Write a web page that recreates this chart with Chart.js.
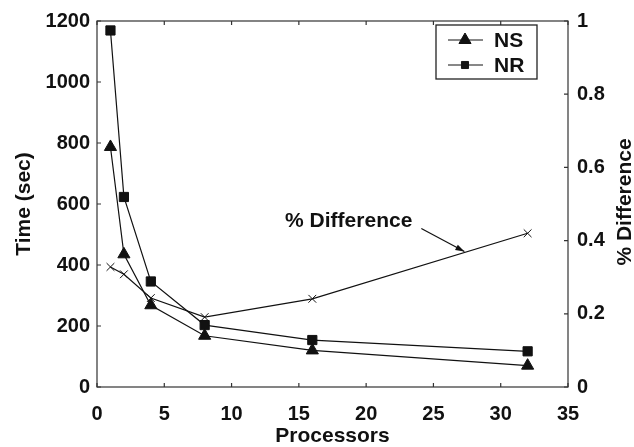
<!DOCTYPE html>
<html>
<head>
<meta charset="utf-8">
<script src="https://cdn.jsdelivr.net/npm/chart.js@4.4.0/dist/chart.umd.min.js"></script>
<style>
html,body{margin:0;padding:0;background:#fff;}
#wrap{width:634px;height:447px;position:relative;}
</style>
</head>
<body>
<div id="wrap"><canvas id="c" width="634" height="447"></canvas></div>
<script>
const processors = [1, 2, 4, 8, 16, 32];
const nsTime = [787, 435, 268, 168, 120, 70];
const nrTime = [1169, 623, 346, 203, 154, 117];
const pctDiff = [0.328, 0.308, 0.243, 0.191, 0.241, 0.42];
const xTicks = [0, 5, 10, 15, 20, 25, 30, 35];
const yTicks = [0, 200, 400, 600, 800, 1000, 1200];
const y1Ticks = [0, 0.2, 0.4, 0.6, 0.8, 1];
const annotationText = '% Difference';

const FONT = 'Liberation Sans, Arial, Helvetica, sans-serif';
const INK = '#111';
const TICK_FONT = { family: FONT, size: 20, weight: 'bold' };
const TITLE_FONT = { family: FONT, size: 21, weight: 'bold', lineHeight: 1.0 };

function pts(ys){ return processors.map((x,i)=>({x:x,y:ys[i]})); }

const framePlugin = {
  id: 'frame',
  afterDatasetsDraw(chart){
    const {ctx, chartArea:a, scales} = chart;
    ctx.save();
    ctx.strokeStyle = '#333';
    ctx.lineWidth = 1.2;
    ctx.strokeRect(a.left, a.top, a.right - a.left, a.bottom - a.top);
    const tl = 4;
    ctx.beginPath();
    xTicks.forEach(v=>{
      const px = scales.x.getPixelForValue(v);
      ctx.moveTo(px, a.bottom); ctx.lineTo(px, a.bottom - tl);
      ctx.moveTo(px, a.top); ctx.lineTo(px, a.top + tl);
    });
    yTicks.forEach(v=>{
      const py = scales.y.getPixelForValue(v);
      ctx.moveTo(a.left, py); ctx.lineTo(a.left + tl, py);
    });
    y1Ticks.forEach(v=>{
      const py = scales.y1.getPixelForValue(v);
      ctx.moveTo(a.right, py); ctx.lineTo(a.right - tl, py);
    });
    ctx.stroke();

    // annotation arrow
    const xs = scales.x, y1 = scales.y1;
    const tipX = xs.getPixelForValue(27.3);
    const tipY = y1.getPixelForValue(0.241 + (27.3-16)/16*(0.42-0.241)) - 1;
    const tailX = xs.getPixelForValue(24.1);
    const tailY = y1.getPixelForValue(0.433);
    ctx.strokeStyle = INK; ctx.fillStyle = INK; ctx.lineWidth = 1.2;
    ctx.beginPath(); ctx.moveTo(tailX, tailY); ctx.lineTo(tipX, tipY); ctx.stroke();
    const ang = Math.atan2(tipY - tailY, tipX - tailX);
    const hl = 9, hw = 3;
    ctx.beginPath();
    ctx.moveTo(tipX, tipY);
    ctx.lineTo(tipX - hl*Math.cos(ang) + hw*Math.sin(ang), tipY - hl*Math.sin(ang) - hw*Math.cos(ang));
    ctx.lineTo(tipX - hl*Math.cos(ang) - hw*Math.sin(ang), tipY - hl*Math.sin(ang) + hw*Math.cos(ang));
    ctx.closePath(); ctx.fill();
    ctx.font = 'bold 21px ' + FONT;
    ctx.textAlign = 'right'; ctx.textBaseline = 'middle';
    ctx.fillText(annotationText, tailX - 9, tailY - 7);

    // right axis title (reads bottom to top)
    ctx.save();
    ctx.translate(625, (a.top + a.bottom)/2 - 2);
    ctx.rotate(-Math.PI/2);
    ctx.textAlign = 'center'; ctx.textBaseline = 'middle';
    ctx.fillText(annotationText, 0, 0);
    ctx.restore();

    // legend
    const lx = 436, ly = 25, lw = 101, lh = 54;
    ctx.fillStyle = '#fff';
    ctx.fillRect(lx, ly, lw, lh);
    ctx.strokeStyle = '#222'; ctx.lineWidth = 1.3;
    ctx.strokeRect(lx, ly, lw, lh);
    const entries = [chart.data.datasets[0], chart.data.datasets[1]];
    entries.forEach((ds, i)=>{
      const cy = ly + 15 + i*25;
      ctx.strokeStyle = INK; ctx.fillStyle = INK; ctx.lineWidth = 1;
      ctx.beginPath(); ctx.moveTo(lx + 12, cy); ctx.lineTo(lx + 47, cy); ctx.stroke();
      Chart.helpers.drawPoint(ctx, {pointStyle: ds.pointStyle, radius: i === 0 ? 7 : 5, borderWidth: 1}, lx + 29, cy);
      ctx.fillStyle = INK;
      ctx.font = 'bold 21px ' + FONT;
      ctx.textAlign = 'left'; ctx.textBaseline = 'middle';
      ctx.fillText(ds.label, lx + 58, cy + 1);
    });
    ctx.restore();
  }
};

new Chart(document.getElementById('c'), {
  type: 'line',
  data: {
    datasets: [
      { label: 'NS', data: pts(nsTime), yAxisID: 'y', borderColor: INK, backgroundColor: INK,
        borderWidth: 1.2, pointStyle: 'triangle', pointRadius: 7, pointBorderWidth: 1, tension: 0 },
      { label: 'NR', data: pts(nrTime), yAxisID: 'y', borderColor: INK, backgroundColor: INK,
        borderWidth: 1.2, pointStyle: 'rect', pointRadius: 6.5, pointBorderWidth: 1, tension: 0 },
      { label: '% Difference', data: pts(pctDiff), yAxisID: 'y1', borderColor: INK, backgroundColor: INK,
        borderWidth: 1.2, pointStyle: 'crossRot', pointRadius: 5.5, pointBorderWidth: 1, tension: 0 }
    ]
  },
  options: {
    responsive: false,
    animation: false,
    layout: { padding: { top: 15, left: 0, right: 0, bottom: 0 } },
    plugins: { legend: { display: false }, tooltip: { enabled: false } },
    scales: {
      x: {
        type: 'linear', min: 0, max: 35,
        afterBuildTicks(s){ s.ticks = xTicks.map(v=>({value:v})); },
        afterFit(s){ s.height = 60; },
        grid: { display: false, drawTicks: false }, border: { display: false },
        ticks: { color: INK, padding: 15, maxRotation: 0, callback: v => String(v), font: TICK_FONT },
        title: { display: true, text: 'Processors', color: INK, padding: { top: 0, bottom: 0 }, font: TITLE_FONT }
      },
      y: {
        type: 'linear', position: 'left', min: 0, max: 1200,
        afterBuildTicks(s){ s.ticks = yTicks.map(v=>({value:v})); },
        afterFit(s){ s.width = 97; },
        grid: { display: false, drawTicks: false }, border: { display: false },
        ticks: { color: INK, padding: 7, callback: v => String(v), font: TICK_FONT },
        title: { display: true, text: 'Time (sec)', color: INK, padding: { top: 14, bottom: 0 }, font: TITLE_FONT }
      },
      y1: {
        type: 'linear', position: 'right', min: 0, max: 1,
        afterBuildTicks(s){ s.ticks = y1Ticks.map(v=>({value:v})); },
        afterFit(s){ s.width = 66; },
        grid: { display: false, drawTicks: false }, border: { display: false },
        ticks: { color: INK, padding: 9, callback: v => String(+Number(v).toFixed(1)), font: TICK_FONT }
      }
    }
  },
  plugins: [framePlugin]
});
</script>
</body>
</html>
